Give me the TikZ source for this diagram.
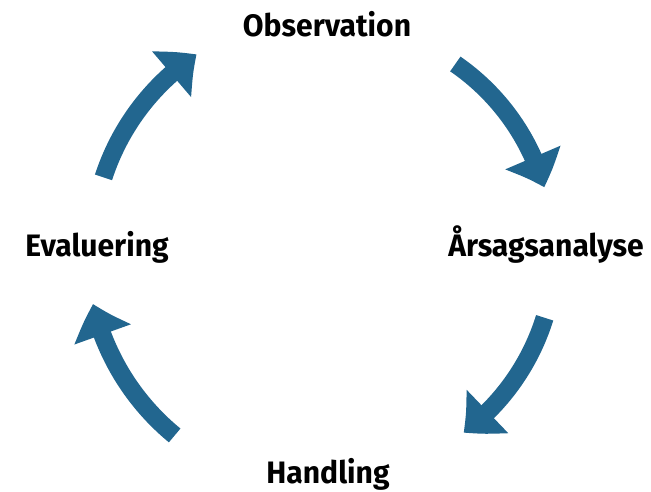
\documentclass[tikz,border=0pt]{standalone}
\usepackage{fontspec}
\setmainfont{Fira Sans}
\usetikzlibrary{arrows.meta,calc,bending}
\definecolor{cyc}{RGB}{34,102,143}
\tikzset{
  lbl/.style={anchor=base,inner sep=0pt,font=\fontsize{31}{31}\selectfont\bfseries},
  cycarrow/.style={draw=cyc,line width=18pt,
    -{Triangle[width=58pt,length=32pt,bend]}},
}
\newcommand{\lbltext}[1]{\scalebox{0.97}[1]{#1}}
\begin{document}
\begin{tikzpicture}[x=1pt,y=1pt]
\useasboundingbox (0,0) rectangle (651,492);
\coordinate (c) at (327,242);
% labels
\node[lbl] (obs) at (327,455) {\lbltext{Observation}};
\node[lbl] (ars) at (546,235) {\lbltext{Årsagsanalyse}};
\node[lbl] (han) at (328,8) {\lbltext{Handling}};
\node[lbl] (eva) at (97,235) {\lbltext{Evaluering}};
% arrow endpoints
\coordinate (a1) at ($(c)+(162:235)$);
\coordinate (a2) at ($(c)+(55.4:226)$);
\coordinate (a3) at ($(c)+(-17.3:228)$);
\coordinate (a4) at ($(c)+(-129.4:240)$);
% arrows
\draw[cycarrow] (a1) arc[start angle=162,end angle=123.7,radius=235];
\draw[cycarrow] (a2) arc[start angle=55.4,end angle=16.1,radius=226];
\draw[cycarrow] (a3) arc[start angle=-17.3,end angle=-53.2,radius=228];
\draw[cycarrow] (a4) arc[start angle=-129.4,end angle=-167,radius=240];
\end{tikzpicture}
\end{document}
